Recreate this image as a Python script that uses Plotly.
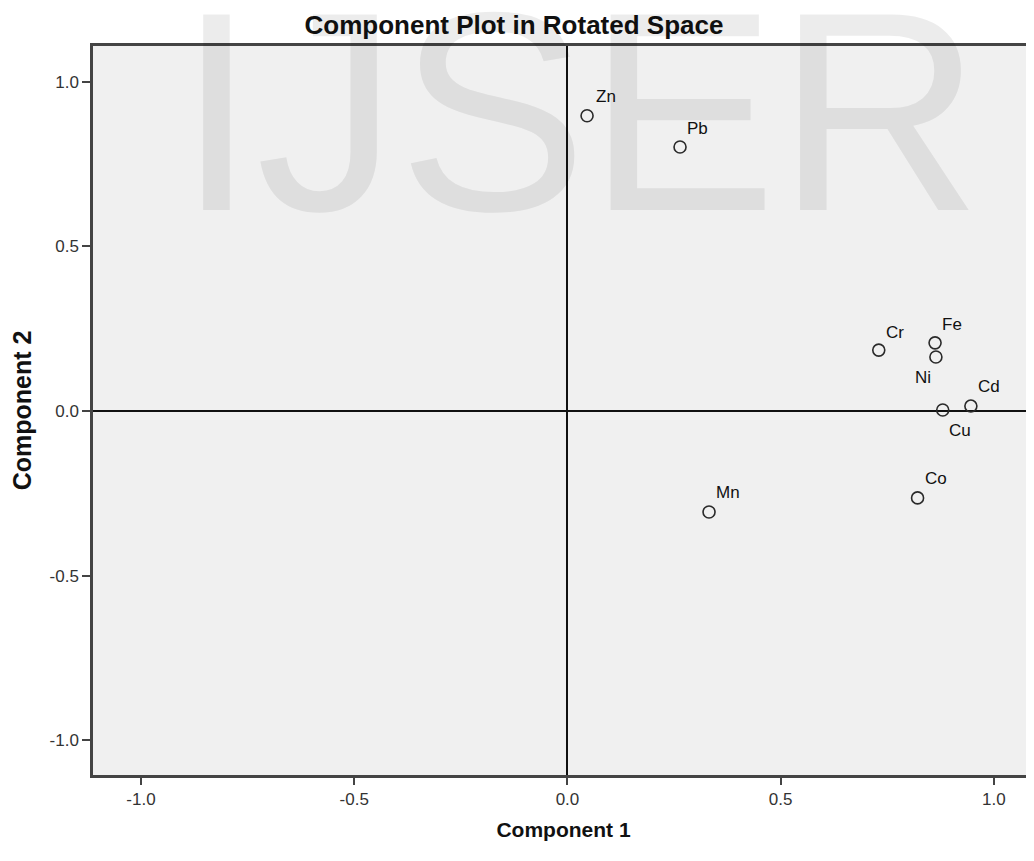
import plotly.graph_objects as go

labels = ["Zn", "Pb", "Cr", "Fe", "Ni", "Cd", "Cu", "Co", "Mn"]
comp1 = [0.046, 0.264, 0.730, 0.862, 0.864, 0.946, 0.880, 0.821, 0.332]
comp2 = [0.897, 0.802, 0.185, 0.207, 0.164, 0.015, 0.003, -0.264, -0.307]
# label offsets in pixels (dx right, dy down) relative to point
label_dx = [19, 17, 16, 17, -13, 18, 17, 18, 19]
label_dy = [-19, -19, -18, -18, 20, -20, 20, -19, -20]
tick_vals = [-1.0, -0.5, 0.0, 0.5, 1.0]
tick_text = ["-1.0", "-0.5", "0.0", "0.5", "1.0"]

FONT = "Liberation Sans, Arial, sans-serif"

fig = go.Figure()
fig.add_trace(go.Scatter(
    x=comp1, y=comp2, mode="markers",
    marker=dict(symbol="circle-open", size=12, color="#2a2a2a", line=dict(width=1.6)),
    hoverinfo="skip", showlegend=False,
))

annotations = []
for lab, x, y, dx, dy in zip(labels, comp1, comp2, label_dx, label_dy):
    annotations.append(dict(
        x=x, y=y, xref="x", yref="y", text=lab, showarrow=False,
        xshift=dx, yshift=-dy, font=dict(family=FONT, size=17, color="#111111"),
    ))

# watermark
annotations.append(dict(
    x=0.5165, y=0.9095, xref="paper", yref="paper", text="IJSER", showarrow=False,
    xanchor="center", yanchor="middle",
    font=dict(family=FONT, size=284, color="rgba(0,0,0,0.075)"),
))

fig.update_layout(
    width=1026, height=853,
    margin=dict(l=85, r=0, t=38, b=86),
    paper_bgcolor="white", plot_bgcolor="#f0f0f0",
    title=dict(text="<b>Component Plot in Rotated Space</b>", x=506 / 1026, xanchor="center",
               y=1 - 16.5 / 853, yanchor="middle",
               font=dict(family=FONT, size=26, color="#111111")),
    font=dict(family=FONT, size=17, color="#222222"),
    annotations=annotations,
)

fig.update_xaxes(
    range=[-1.1125, 1.094], tickvals=tick_vals, ticktext=tick_text,
    showgrid=False, zeroline=True, zerolinecolor="#111111", zerolinewidth=1.6,
    showline=True, linecolor="#444444", linewidth=2.5, mirror=True,
    ticks="outside", ticklen=7, tickwidth=1.6, tickcolor="#444444",
    title=dict(text="<b>Component 1</b>", font=dict(family=FONT, size=21, color="#111111"), standoff=15),
    tickfont=dict(family=FONT, size=17, color="#333333"),
)
fig.update_yaxes(
    range=[-1.106, 1.109], tickvals=tick_vals, ticktext=tick_text,
    showgrid=False, zeroline=True, zerolinecolor="#111111", zerolinewidth=1.6,
    showline=True, linecolor="#444444", linewidth=2.5, mirror=False,
    ticks="outside", ticklen=8, tickwidth=1.6, tickcolor="#444444",
    title=dict(text="<b>Component 2</b>", font=dict(family=FONT, size=25, color="#111111"), standoff=18),
    tickfont=dict(family=FONT, size=17, color="#333333"),
)

fig.write_html("out.html")
